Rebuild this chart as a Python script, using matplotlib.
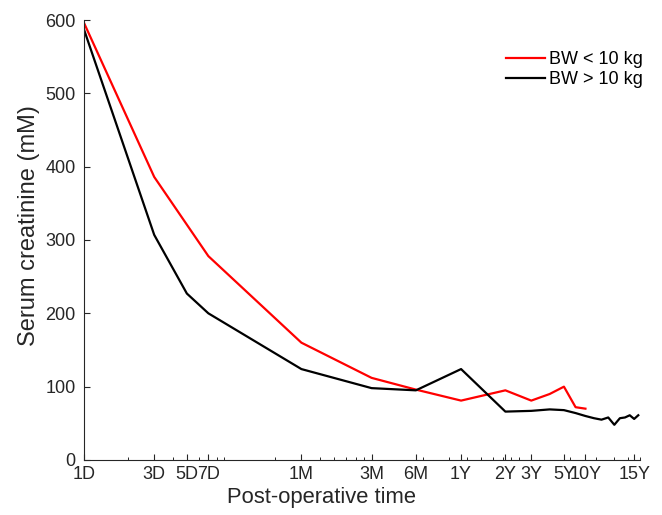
import numpy as np
import matplotlib
matplotlib.use("Agg")
import matplotlib.pyplot as plt

plt.rcParams['font.family'] = ['Liberation Sans', 'DejaVu Sans']

# time in days after surgery
tick_days = [1, 3, 5, 7, 30, 90, 180, 365, 730, 1095, 1825, 2555, 5475]
tick_labels = ['1D', '3D', '5D', '7D', '1M', '3M', '6M', '1Y', '2Y', '3Y', '5Y', '10Y', '15Y']

# BW < 10 kg
red_days = [1, 3, 7, 30, 90, 180, 365, 730, 1095, 1460, 1825, 2190, 2555]
red_cr = [596, 386, 278, 160, 112, 96, 81, 95, 81, 90, 100, 72, 70]

# BW > 10 kg
black_days = [1, 3, 5, 7, 30, 90, 180, 365, 730, 1095, 1460, 1825, 2190, 2555,
              2920, 3285, 3650, 4015, 4380, 4745, 5110, 5475, 5840]
black_cr = [587, 307, 227, 200, 124, 98, 95, 124, 66, 67, 69, 68, 64, 60,
            57, 55, 58, 48, 57, 58, 61, 56, 61]

gray = '#262626'

fig = plt.figure(figsize=(6.62, 5.15), dpi=100)
ax = fig.add_axes([84/662, 55/515, (640-84)/662, (460-20)/515])

ax.plot(red_days, red_cr, color='#ff0000', lw=1.6, label='BW < 10 kg')
ax.plot(black_days, black_cr, color='black', lw=1.6, label='BW > 10 kg')

ax.set_xscale('log')
ax.set_xlim(1, 6000)
ax.set_ylim(0, 600)
ax.set_xticks(tick_days)
ax.set_xticklabels(tick_labels)
ax.set_yticks(range(0, 601, 100))

for s in ['top', 'right']:
    ax.spines[s].set_visible(False)
for s in ['left', 'bottom']:
    ax.spines[s].set_color(gray)
    ax.spines[s].set_linewidth(0.8)

ax.tick_params(which='major', direction='in', length=4.5, width=0.8,
               color=gray, labelcolor=gray, labelsize=13)
ax.tick_params(axis='y', which='major', pad=6)
ax.tick_params(axis='x', which='major', pad=4)
ax.tick_params(which='minor', direction='in', length=2.5, width=0.7, color=gray)
ax.tick_params(axis='y', which='minor', left=False)

ax.set_xlabel('Post-operative time', fontsize=15.8, color=gray)
ax.set_ylabel('Serum creatinine (mM)', fontsize=17, color=gray)
ax.xaxis.set_label_coords(0.428, -0.062)
ax.yaxis.set_label_coords(-0.079, 0.532)

ax.legend(loc='upper right', bbox_to_anchor=(1.018, 0.945), frameon=False,
          fontsize=13, handlelength=2.15, handletextpad=0.2,
          labelspacing=0.15, borderaxespad=0)

fig.savefig('out.png', dpi=100)
